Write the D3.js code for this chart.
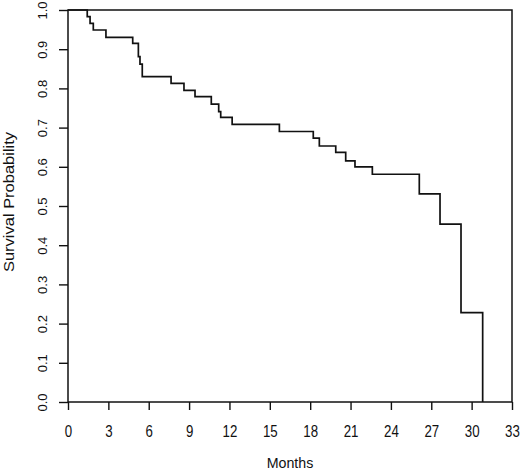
<!DOCTYPE html>
<html>
<head>
<meta charset="utf-8">
<script src="https://d3js.org/d3.v7.min.js"></script>
<style>
	body { margin: 0; background: #fff; }
	svg text { font-family: "Liberation Sans", Arial, sans-serif; fill: #111; }
</style>
</head>
<body>
<div class="mainContainer"></div>
<script>
// Kaplan-Meier steps
var months = [0, 1.43, 1.64, 1.88, 2.82, 4.81, 5.23, 5.35, 5.52, 7.66, 8.62, 9.44, 10.65, 11.2, 11.35, 12.2,
	15.71, 18.23, 18.68, 19.9, 20.64, 21.33, 22.62, 26.11, 27.65, 29.21, 30.82];
var survival = [1.0, 0.983, 0.966, 0.949, 0.930, 0.915, 0.881, 0.862, 0.830, 0.813, 0.795, 0.779, 0.760, 0.741, 0.726, 0.708,
	0.690, 0.673, 0.653, 0.637, 0.615, 0.600, 0.581, 0.531, 0.454, 0.228, 0.0];
var xTicks = [0, 3, 6, 9, 12, 15, 18, 21, 24, 27, 30, 33];
var yTicks = [0, 0.1, 0.2, 0.3, 0.4, 0.5, 0.6, 0.7, 0.8, 0.9, 1.0];

var width = 520, height = 471;
var plotLeft = 68, plotRight = 512, plotTop = 10, plotBottom = 402;

var svg = d3.select('.mainContainer').append('svg').attr('width', width).attr('height', height);

var x = d3.scaleLinear().domain([0, 33]).range([plotLeft, plotRight]);
var y = d3.scaleLinear().domain([0, 1]).range([plotBottom, plotTop]);

// x axis
var gx = svg.append('g').attr('transform', 'translate(0,' + plotBottom + ')')
	.call(d3.axisBottom(x).tickValues(xTicks).tickSize(8).tickFormat(d3.format('d')));
gx.select('.domain').remove();
gx.selectAll('line').attr('stroke', '#111').attr('stroke-width', 1.4);
gx.selectAll('text').attr('y', 35).attr('dy', null).style('font-size', '16px')
	.attr('transform', 'scale(0.83,1)');

// y axis, labels turned like R does
var gy = svg.append('g').attr('transform', 'translate(' + plotLeft + ',0)')
	.call(d3.axisLeft(y).tickValues(yTicks).tickSize(9).tickFormat(d3.format('.1f')));
gy.select('.domain').remove();
gy.selectAll('line').attr('stroke', '#111').attr('stroke-width', 1.4);
gy.selectAll('text').attr('x', null).attr('dy', null).attr('text-anchor', 'middle')
	.style('font-size', '13px')
	.attr('transform', 'translate(-21.5,0) rotate(-90)');

// box
svg.append('rect').attr('x', plotLeft).attr('y', plotTop).attr('width', plotRight - plotLeft).attr('height', plotBottom - plotTop)
	.style('fill', 'none').style('stroke', '#111').style('stroke-width', 1.5);

// survival curve
var pts = months.map(function(m, i) { return [m, survival[i]]; });
var line = d3.line().x(function(d) { return x(d[0]); }).y(function(d) { return y(d[1]); }).curve(d3.curveStepAfter);
svg.append('path').datum(pts).attr('d', line)
	.style('fill', 'none').style('stroke', '#111').style('stroke-width', 1.7);

// titles
svg.append('text').attr('x', (plotLeft + plotRight) / 2).attr('y', 468).attr('text-anchor', 'middle')
	.style('font-size', '15px').attr('transform', 'translate(' + ((plotLeft + plotRight) / 2 * 0.05) + ',0) scale(0.95,1)')
	.text('Months');
svg.append('text').attr('text-anchor', 'middle').style('font-size', '16.5px')
	.attr('transform', 'translate(13.5,202) rotate(-90) scale(1,0.85)')
	.text('Survival Probability');
</script>
</body>
</html>
